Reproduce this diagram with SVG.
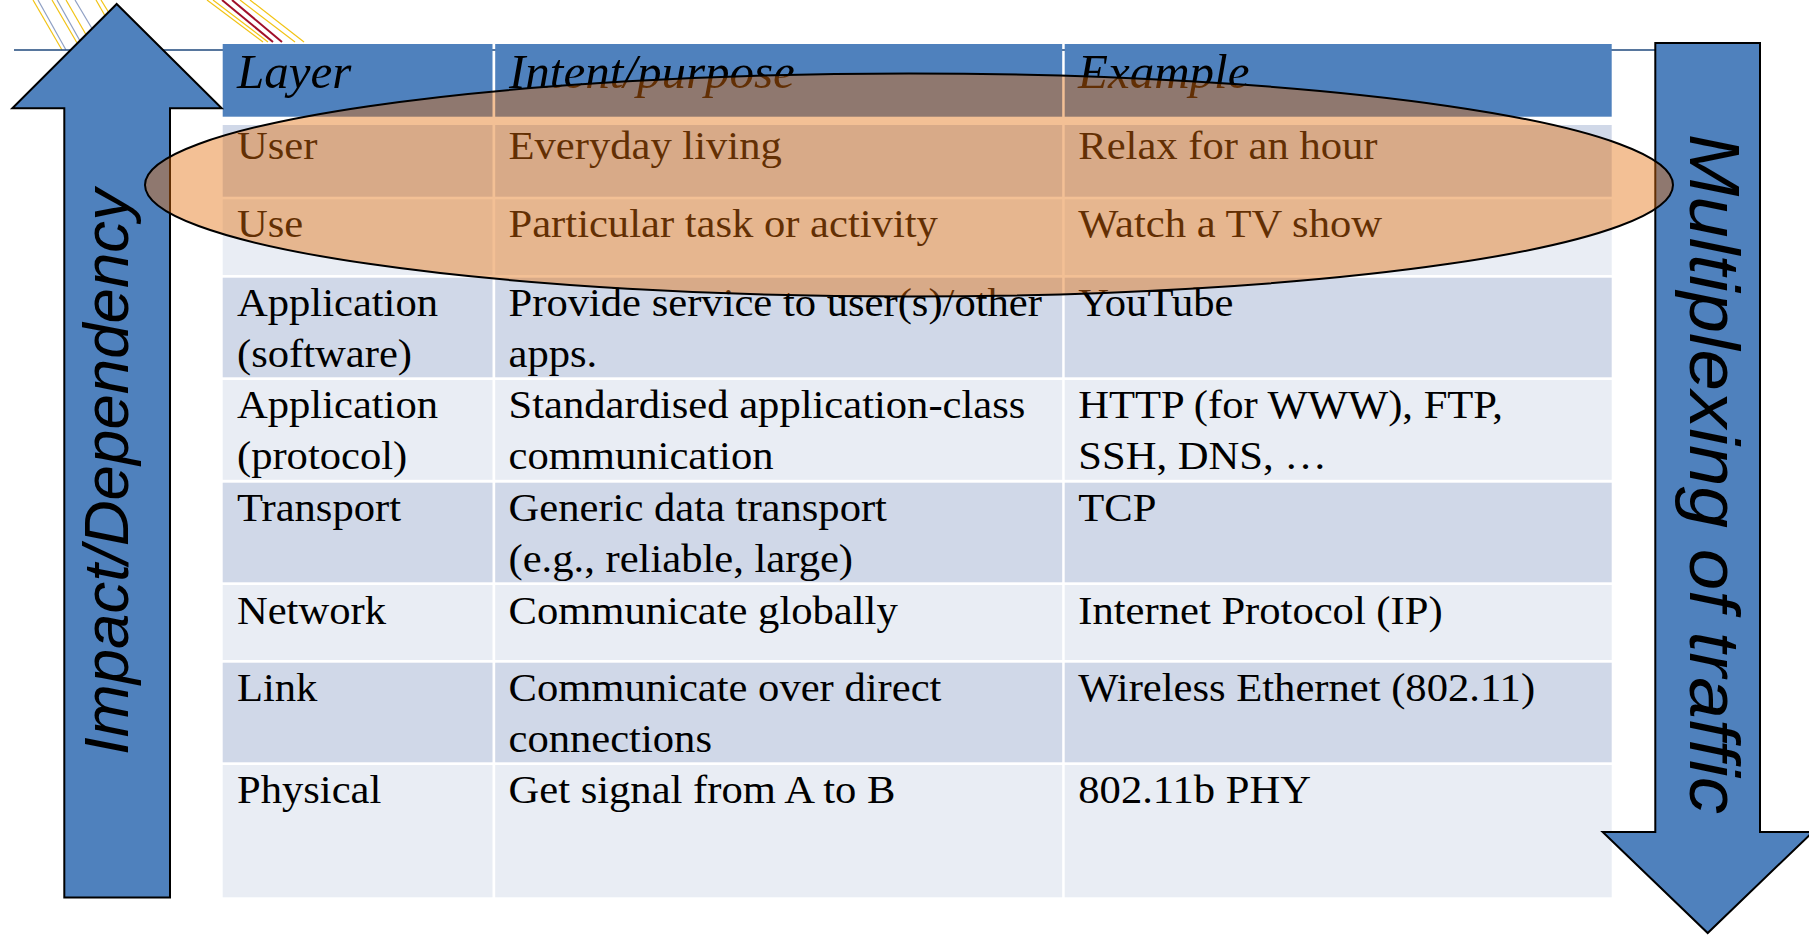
<svg xmlns="http://www.w3.org/2000/svg" width="1809" height="935" viewBox="0 0 1809 935">
  <style>
    .cell-dark { fill: #D0D8E8; }
    .cell-light { fill: #E9EDF4; }
    .cell-head { fill: #4F81BD; }
    .txt { font-family: "Liberation Serif", "Times New Roman", serif; font-size: 40px; fill: #000; }
    .head { font-family: "Liberation Serif", "Times New Roman", serif; font-size: 49px; font-style: italic; fill: #000; }
    .arrow { fill: #4F81BD; stroke: #000; stroke-width: 2; stroke-linejoin: miter; }
    .arrow-label { font-family: "Liberation Sans", Arial, sans-serif; font-style: italic; fill: #000; }
    .deco-y { stroke: #F2C314; stroke-width: 1.2; }
    .deco-b { stroke: #8FA0C4; stroke-width: 1.2; }
    .deco-r { stroke: #A0102A; stroke-width: 2; }
  </style>

  <!-- corner decoration strokes -->
  <g id="decoration">
    <line class="deco-y" x1="33" y1="0" x2="62" y2="50"/>
    <line class="deco-b" x1="38" y1="0" x2="66" y2="50"/>
    <line class="deco-y" x1="52" y1="0" x2="80" y2="48"/>
    <line class="deco-b" x1="57" y1="0" x2="84" y2="48"/>
    <line class="deco-y" x1="66" y1="0" x2="92" y2="45"/>
    <line class="deco-b" x1="75" y1="0" x2="100" y2="42"/>
    <line class="deco-y" x1="96" y1="0" x2="112" y2="28"/>
    <line class="deco-y" x1="101" y1="0" x2="117" y2="26"/>
    <line class="deco-y" x1="207" y1="0" x2="263" y2="42"/>
    <line class="deco-y" x1="213" y1="0" x2="268" y2="42"/>
    <line class="deco-r" x1="222" y1="0" x2="273" y2="42"/>
    <line class="deco-r" x1="232" y1="0" x2="282" y2="42"/>
    <line class="deco-y" x1="240" y1="0" x2="295" y2="42"/>
    <line class="deco-y" x1="250" y1="0" x2="304" y2="42"/>
    <line x1="14" y1="50" x2="1660" y2="50" stroke="#1F497D" stroke-width="1.6"/>
  </g>

  <!-- layer table -->
  <g id="table">
    <g id="row-header">
      <rect class="cell-head" x="222.7" y="44" width="269.8" height="72.7"/>
      <rect class="cell-head" x="495.2" y="44" width="567" height="72.7"/>
      <rect class="cell-head" x="1064.7" y="44" width="547" height="72.7"/>
      <text class="head" x="237" y="88.3">Layer</text>
      <text class="head" x="509" y="88.3">Intent/purpose</text>
      <text class="head" x="1078" y="88.3">Example</text>
    </g>
    <g id="row-user">
      <rect class="cell-dark" x="222.7" y="125" width="269.8" height="71.7"/>
      <rect class="cell-dark" x="495.2" y="125" width="567" height="71.7"/>
      <rect class="cell-dark" x="1064.7" y="125" width="547" height="71.7"/>
      <g transform="scale(1.065 1)">
        <text class="txt" x="222.5" y="159.5">User</text>
        <text class="txt" x="477.5" y="159.5">Everyday living</text>
        <text class="txt" x="1012.5" y="159.5">Relax for an hour</text>
      </g>
    </g>
    <g id="row-use">
      <rect class="cell-light" x="222.7" y="199.3" width="269.8" height="75.7"/>
      <rect class="cell-light" x="495.2" y="199.3" width="567" height="75.7"/>
      <rect class="cell-light" x="1064.7" y="199.3" width="547" height="75.7"/>
      <g transform="scale(1.065 1)">
        <text class="txt" x="222.5" y="237.5">Use</text>
        <text class="txt" x="477.5" y="237.5">Particular task or activity</text>
        <text class="txt" x="1012.5" y="237.5">Watch a TV show</text>
      </g>
    </g>
    <g id="row-app-software">
      <rect class="cell-dark" x="222.7" y="277.7" width="269.8" height="99.6"/>
      <rect class="cell-dark" x="495.2" y="277.7" width="567" height="99.6"/>
      <rect class="cell-dark" x="1064.7" y="277.7" width="547" height="99.6"/>
      <g transform="scale(1.065 1)">
        <text class="txt" x="222.5" y="316.5">Application</text>
        <text class="txt" x="222.5" y="367.5">(software)</text>
        <text class="txt" x="477.5" y="316.5">Provide service to user(s)/other</text>
        <text class="txt" x="477.5" y="367.5">apps.</text>
        <text class="txt" x="1012.5" y="316.5">YouTube</text>
      </g>
    </g>
    <g id="row-app-protocol">
      <rect class="cell-light" x="222.7" y="380" width="269.8" height="99.8"/>
      <rect class="cell-light" x="495.2" y="380" width="567" height="99.8"/>
      <rect class="cell-light" x="1064.7" y="380" width="547" height="99.8"/>
      <g transform="scale(1.065 1)">
        <text class="txt" x="222.5" y="418.3">Application</text>
        <text class="txt" x="222.5" y="469.3">(protocol)</text>
        <text class="txt" x="477.5" y="418.3">Standardised application-class</text>
        <text class="txt" x="477.5" y="469.3">communication</text>
        <text class="txt" x="1012.5" y="418.3">HTTP (for WWW), FTP,</text>
        <text class="txt" x="1012.5" y="469.3">SSH, DNS, …</text>
      </g>
    </g>
    <g id="row-transport">
      <rect class="cell-dark" x="222.7" y="482.7" width="269.8" height="99.6"/>
      <rect class="cell-dark" x="495.2" y="482.7" width="567" height="99.6"/>
      <rect class="cell-dark" x="1064.7" y="482.7" width="547" height="99.6"/>
      <g transform="scale(1.065 1)">
        <text class="txt" x="222.5" y="521.3">Transport</text>
        <text class="txt" x="477.5" y="521.3">Generic data transport</text>
        <text class="txt" x="477.5" y="572.5">(e.g., reliable, large)</text>
        <text class="txt" x="1012.5" y="521.3">TCP</text>
      </g>
    </g>
    <g id="row-network">
      <rect class="cell-light" x="222.7" y="585" width="269.8" height="75"/>
      <rect class="cell-light" x="495.2" y="585" width="567" height="75"/>
      <rect class="cell-light" x="1064.7" y="585" width="547" height="75"/>
      <g transform="scale(1.065 1)">
        <text class="txt" x="222.5" y="623.7">Network</text>
        <text class="txt" x="477.5" y="623.7">Communicate globally</text>
        <text class="txt" x="1012.5" y="623.7">Internet Protocol (IP)</text>
      </g>
    </g>
    <g id="row-link">
      <rect class="cell-dark" x="222.7" y="662.7" width="269.8" height="99.6"/>
      <rect class="cell-dark" x="495.2" y="662.7" width="567" height="99.6"/>
      <rect class="cell-dark" x="1064.7" y="662.7" width="547" height="99.6"/>
      <g transform="scale(1.065 1)">
        <text class="txt" x="222.5" y="700.7">Link</text>
        <text class="txt" x="477.5" y="700.7">Communicate over direct</text>
        <text class="txt" x="477.5" y="751.7">connections</text>
        <text class="txt" x="1012.5" y="700.7">Wireless Ethernet (802.11)</text>
      </g>
    </g>
    <g id="row-physical">
      <rect class="cell-light" x="222.7" y="765" width="269.8" height="132.3"/>
      <rect class="cell-light" x="495.2" y="765" width="567" height="132.3"/>
      <rect class="cell-light" x="1064.7" y="765" width="547" height="132.3"/>
      <g transform="scale(1.065 1)">
        <text class="txt" x="222.5" y="803">Physical</text>
        <text class="txt" x="477.5" y="803">Get signal from A to B</text>
        <text class="txt" x="1012.5" y="803">802.11b PHY</text>
      </g>
    </g>
  </g>

  <!-- up arrow: impact / dependency -->
  <g id="arrow-impact">
    <path class="arrow" d="M116.7,4 L221.7,108.3 L170,108.3 L170,897.6 L64.3,897.6 L64.3,108.3 L12.3,108.3 Z"/>
    <text class="arrow-label" font-size="63" text-anchor="middle" textLength="566" lengthAdjust="spacingAndGlyphs" transform="translate(128 472) rotate(-90)">Impact/Dependency</text>
  </g>

  <!-- down arrow: multiplexing -->
  <g id="arrow-multiplexing">
    <path class="arrow" d="M1655.3,43 L1760,43 L1760,832 L1812.7,832 L1707.7,933 L1602.7,832 L1655.3,832 Z"/>
    <text class="arrow-label" font-size="70" text-anchor="middle" textLength="680" lengthAdjust="spacingAndGlyphs" transform="translate(1690 474) rotate(90)">Multiplexing of traffic</text>
  </g>

  <!-- highlight around the user/use rows -->
  <g id="highlight">
    <ellipse cx="909" cy="185" rx="764" ry="111.5" fill="#E36C09" fill-opacity="0.43" stroke="#000" stroke-width="2"/>
  </g>
</svg>
